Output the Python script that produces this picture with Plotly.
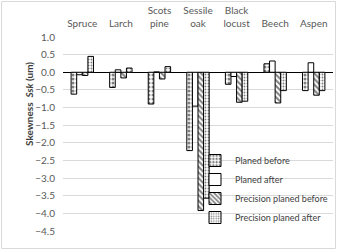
import plotly.graph_objects as go

categories = ["Spruce", "Larch", "Scots<br>pine", "Sessile<br>oak", "Black<br>locust", "Beech", "Aspen"]
planed_before = [-0.62, -0.43, -0.90, -2.22, -0.34, 0.24, -0.52]
planed_after = [-0.07, 0.07, 0.01, -0.96, -0.12, 0.32, 0.27]
precision_before = [-0.09, -0.16, -0.19, -3.92, -0.85, -0.87, -0.65]
precision_after = [0.45, 0.12, 0.16, -3.57, -0.82, -0.52, -0.52]
y_ticks = [1.0, 0.5, 0.0, -0.5, -1.0, -1.5, -2.0, -2.5, -3.0, -3.5, -4.0, -4.5]

W, H = 337, 250
L, R, T, B = 63, 4, 37, 19
FONT = "Lato"

series = [
    ("Planed before", planed_before, dict(shape=".", fgcolor="black", bgcolor="white", size=4, solidity=0.45)),
    ("Planed after", planed_after, dict(shape="", bgcolor="white")),
    ("Precision planed before", precision_before, dict(shape="\\", fgcolor="black", bgcolor="white", size=4, solidity=0.5)),
    ("Precision planed after", precision_after, dict(shape=".", fgcolor="black", bgcolor="white", size=3, solidity=0.3)),
]

fig = go.Figure()
for name, vals, pat in series:
    fig.add_trace(go.Bar(
        x=categories, y=vals, name=name,
        marker=dict(color="white", line=dict(color="black", width=1), pattern=pat),
    ))

pw = W - L - R
ph = H - T - B
def px_x(p):
    return (p - L) / pw
def px_y(p):
    return (H - B - p) / ph

fig.update_layout(
    width=W, height=H,
    margin=dict(l=L, r=R, t=T, b=B, autoexpand=False),
    paper_bgcolor="white", plot_bgcolor="white",
    barmode="group", bargap=0.42, bargroupgap=0,
    font=dict(family=FONT, size=10, color="#595959"),
    showlegend=True,
    legend=dict(
        x=px_x(195), y=px_y(146), xanchor="left", yanchor="top",
        bgcolor="rgba(0,0,0,0)", font=dict(size=9, color="#404040"),
        tracegroupgap=0, itemwidth=30,
    ),
    xaxis=dict(
        side="top", showline=False, showgrid=False, ticks="", automargin=False,
        tickfont=dict(size=10, color="#595959"), tickangle=0, ticklabelstandoff=7,
    ),
    yaxis=dict(
        range=[-4.5, 1.0], tickvals=y_ticks, tickformat=".1f", automargin=False,
        showgrid=True, gridcolor="#d9d9d9", gridwidth=1,
        zeroline=True, zerolinecolor="black", zerolinewidth=1,
        showline=False, ticks="", ticklabelstandoff=7,
        tickfont=dict(size=10, color="#595959"),
    ),
    annotations=[dict(
        text="<b>Skewness  <i>Ssk</i> (um)</b>",
        xref="paper", yref="paper", x=px_x(29), y=px_y(104),
        xanchor="center", yanchor="middle",
        showarrow=False, textangle=-90, font=dict(size=10, color="#404040"),
    )],
    shapes=[dict(
        type="rect", xref="paper", yref="paper",
        x0=px_x(1.5), x1=px_x(335.5), y0=px_y(248.5), y1=px_y(1.5),
        line=dict(color="#d9d9d9", width=1), layer="below",
    )],
)

fig.write_html(
    "out.html",
    config={"displayModeBar": False},
    post_script="document.body.style.margin='0';document.body.style.overflow='hidden';",
)
